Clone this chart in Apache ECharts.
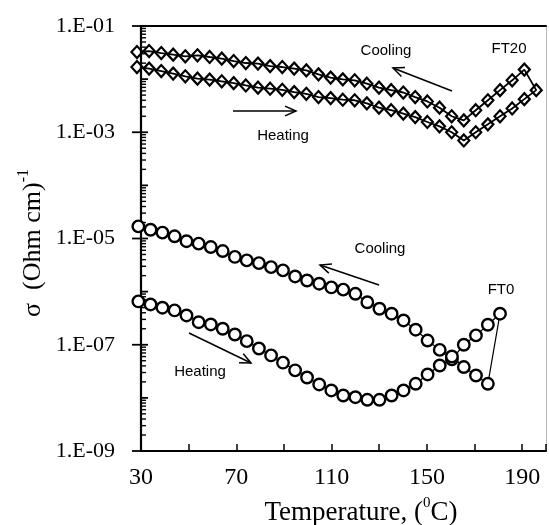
<!DOCTYPE html>
<html><head><meta charset="utf-8">
<script src="https://cdn.jsdelivr.net/npm/echarts@6/dist/echarts.min.js"></script>
<style>html,body{margin:0;padding:0;background:#fff}#c{width:549px;height:525px}</style>
</head><body><div id="c"></div>
<script>
// ---- data ----
const ft20HeatT = [28.3,33.4,38.5,43.5,48.6,53.7,58.8,63.9,68.9,74.0,79.1,84.2,89.3,94.3,99.4,104.5,109.6,114.7,119.7,124.8,129.9,135.0,140.1,145.1,150.2,155.3,160.4,165.5,170.5,175.6,180.7,185.8,190.9,195.9];
const ft20HeatS = [1.69e-2,1.58e-2,1.42e-2,1.27e-2,1.13e-2,1.02e-2,9.8e-3,9.1e-3,8.4e-3,7.6e-3,6.9e-3,6.6e-3,6.3e-3,5.7e-3,5.3e-3,4.6e-3,4.4e-3,4.1e-3,4.0e-3,3.5e-3,2.9e-3,2.6e-3,2.24e-3,1.93e-3,1.56e-3,1.29e-3,1.0e-3,7.0e-4,1.0e-3,1.41e-3,2.0e-3,2.8e-3,4.2e-3,6.2e-3];
// cooling, listed in ascending temperature
const ft20CoolT = [28.3,33.4,38.5,43.5,48.6,53.7,58.8,63.9,68.9,74.0,79.1,84.2,89.3,94.3,99.4,104.5,109.6,114.7,119.7,124.8,129.9,135.0,140.1,145.1,150.2,155.3,160.4,165.5,170.5,175.6,180.7,185.8,190.9];
const ft20CoolS = [3.24e-2,3.38e-2,3.10e-2,2.89e-2,2.69e-2,2.81e-2,2.61e-2,2.43e-2,2.19e-2,2.01e-2,1.96e-2,1.76e-2,1.69e-2,1.58e-2,1.46e-2,1.23e-2,1.07e-2,9.9e-3,9.5e-3,8.2e-3,6.9e-3,6.2e-3,5.6e-3,4.6e-3,3.8e-3,2.9e-3,2.0e-3,1.67e-3,2.6e-3,4.0e-3,6.2e-3,9.5e-3,1.51e-2];
const ft0HeatT = [28.9,34.0,39.0,44.1,49.1,54.2,59.3,64.3,69.4,74.4,79.5,84.6,89.6,94.7,99.7,104.8,109.9,114.9,120.0,125.0,130.1,135.2,140.2,145.3,150.3,155.4,160.5,165.5,170.6,175.6,180.7];
const ft0HeatS = [6.54e-7,5.74e-7,4.98e-7,4.43e-7,3.56e-7,2.66e-7,2.41e-7,2.00e-7,1.56e-7,1.17e-7,8.5e-8,6.3e-8,4.6e-8,3.3e-8,2.42e-8,1.79e-8,1.38e-8,1.11e-8,1.03e-8,9.2e-9,9.2e-9,1.11e-8,1.38e-8,1.84e-8,2.76e-8,4.07e-8,5.3e-8,1.0e-7,1.50e-7,2.38e-7,3.84e-7];
const ft0CoolT = [28.9,34.0,39.0,44.1,49.1,54.2,59.3,64.3,69.4,74.4,79.5,84.6,89.6,94.7,99.7,104.8,109.9,114.9,120.0,125.0,130.1,135.2,140.2,145.3,150.3,155.4,160.5,165.5,170.6,175.6];
const ft0CoolS = [1.69e-5,1.46e-5,1.29e-5,1.10e-5,8.9e-6,8.0e-6,6.9e-6,5.8e-6,4.5e-6,3.87e-6,3.44e-6,2.89e-6,2.51e-6,1.93e-6,1.62e-6,1.41e-6,1.20e-6,1.09e-6,9.1e-7,6.3e-7,4.76e-7,3.84e-7,2.87e-7,1.92e-7,1.20e-7,8.0e-8,6.0e-8,3.8e-8,2.64e-8,1.84e-8];
const xTickLabels = ['30','70','110','150','190'];
const yTickValues = [1e-9,1e-7,1e-5,1e-3,1e-1];
const yTickLabels = ['1.E-09','1.E-07','1.E-05','1.E-03','1.E-01'];

function loop(hT, hS, cT, cS) {
  const h = hT.map((t, i) => [t, hS[i]]);
  const c = cT.map((t, i) => [t, cS[i]]).reverse();
  return h.concat(c);
}

const SERIF = '"Liberation Serif","Times New Roman",serif';
const SANS = '"Liberation Sans",Arial,sans-serif';

const chart = echarts.init(document.getElementById('c'));
chart.setOption({
  animation: false,
  backgroundColor: '#fff',
  grid: {left: 141, right: 1, top: 26, bottom: 74, containLabel: false},
  xAxis: [{
    type: 'value', min: 30, max: 200, interval: 20,
    axisLine: {show: true, lineStyle: {color: '#000', width: 2}},
    axisTick: {show: true, inside: true, length: 7, lineStyle: {color: '#000', width: 1.5}},
    splitLine: {show: false},
    axisLabel: {
      margin: 15, color: '#000', fontFamily: SERIF, fontSize: 24,
      formatter: v => xTickLabels.indexOf(String(Math.round(v))) >= 0 ? String(Math.round(v)) : ''
    }
  }, {
    type: 'value', min: 30, max: 200, position: 'top',
    axisLine: {show: true, lineStyle: {color: '#000', width: 2}},
    axisTick: {show: false}, axisLabel: {show: false}, splitLine: {show: false}
  }],
  yAxis: [{
    type: 'log', logBase: 10, min: 1e-9, max: 1e-1,
    axisLine: {show: true, lineStyle: {color: '#000', width: 2.2}},
    axisTick: {show: false},
    splitLine: {show: false},
    axisLabel: {
      margin: 26, color: '#000', fontFamily: SERIF, fontSize: 22,
      formatter: v => {
        const e = Math.round(Math.log10(v));
        const idx = yTickValues.findIndex(t => Math.round(Math.log10(t)) === e);
        return idx >= 0 ? yTickLabels[idx] : '';
      }
    }
  }, {
    type: 'value', min: 0, max: 1, position: 'right',
    axisLine: {show: true, lineStyle: {color: '#aaa', width: 1, type: 'dotted'}},
    axisTick: {show: false}, axisLabel: {show: false}, splitLine: {show: false}
  }],
  series: [{
    name: 'FT20', type: 'line', xAxisIndex: 0, yAxisIndex: 0, clip: false,
    data: loop(ft20HeatT, ft20HeatS, ft20CoolT, ft20CoolS),
    symbol: 'diamond', symbolSize: [11, 12], showAllSymbol: true,
    lineStyle: {color: '#000', width: 1.8},
    itemStyle: {color: 'rgba(255,255,255,0)', borderColor: '#000', borderWidth: 2.2},
    z: 3
  }, {
    name: 'FT0', type: 'line', xAxisIndex: 0, yAxisIndex: 0, clip: false,
    data: loop(ft0HeatT, ft0HeatS, ft0CoolT, ft0CoolS),
    symbol: 'circle', symbolSize: 11.5, showAllSymbol: true,
    lineStyle: {color: '#000', width: 1.2},
    itemStyle: {color: '#fff', borderColor: '#000', borderWidth: 2.4},
    z: 3
  }]
});

// ---- log minor ticks & annotations ----
const g = [];
const x0 = chart.convertToPixel({xAxisIndex: 0}, 30);
for (let n = -9; n <= -1; n++) {
  for (let k = 1; k <= 9; k++) {
    if (n === -1 && k > 1) break;
    const v = k * Math.pow(10, n);
    const y = chart.convertToPixel({yAxisIndex: 0}, v);
    let xa = x0, xb = x0 + 5;
    if (k === 1) {
      xb = x0 + 7;
      if (Math.abs(n) % 2 === 1) xa = x0 - 9;
    }
    g.push({type: 'line', silent: true, z: 1,
      shape: {x1: xa, y1: y, x2: xb, y2: y},
      style: {stroke: '#000', lineWidth: k === 1 ? 1.8 : 1.4}});
  }
}
function arrow(x1, y1, x2, y2) {
  const a = Math.atan2(y2 - y1, x2 - x1), L = 12, h = 0.42;
  g.push({type: 'line', silent: true, z: 10, shape: {x1, y1, x2, y2}, style: {stroke: '#000', lineWidth: 1.5}});
  g.push({type: 'polyline', silent: true, z: 10,
    shape: {points: [[x2 - L * Math.cos(a - h), y2 - L * Math.sin(a - h)], [x2, y2], [x2 - L * Math.cos(a + h), y2 - L * Math.sin(a + h)]]},
    style: {stroke: '#000', lineWidth: 1.5, fill: null}});
}
function label(text, x, y) {
  g.push({type: 'text', silent: true, z: 10, x, y,
    style: {text, font: '15px ' + SANS, fill: '#000', align: 'center', verticalAlign: 'middle'}});
}
label('Cooling', 386, 51);
label('FT20', 509, 49);
label('Heating', 283, 136);
label('Cooling', 380, 249);
label('FT0', 501, 290);
label('Heating', 200, 372);
arrow(452, 91, 393, 68);
arrow(233, 111, 296, 111);
arrow(379, 285, 320, 265);
arrow(189, 333, 251, 363);

g.push({type: 'text', silent: true, z: 10, x: 361, y: 511,
  style: {text: '{a|Temperature, (}{s|0}{a|C)}', align: 'center', verticalAlign: 'middle', fill: '#000',
    rich: {a: {fontFamily: SERIF, fontSize: 27, lineHeight: 30, verticalAlign: 'bottom'},
           s: {fontFamily: SERIF, fontSize: 15, lineHeight: 15, verticalAlign: 'top'}}}});
g.push({type: 'text', silent: true, z: 10, x: 31, y: 243, rotation: Math.PI / 2,
  style: {text: '{a|σ  (Ohm cm)}{s|-1}', align: 'center', verticalAlign: 'middle', fill: '#000',
    rich: {a: {fontFamily: SERIF, fontSize: 26, lineHeight: 30, verticalAlign: 'bottom'},
           s: {fontFamily: SERIF, fontSize: 16, lineHeight: 16, verticalAlign: 'top'}}}});

chart.setOption({graphic: g});
</script>
</body></html>
